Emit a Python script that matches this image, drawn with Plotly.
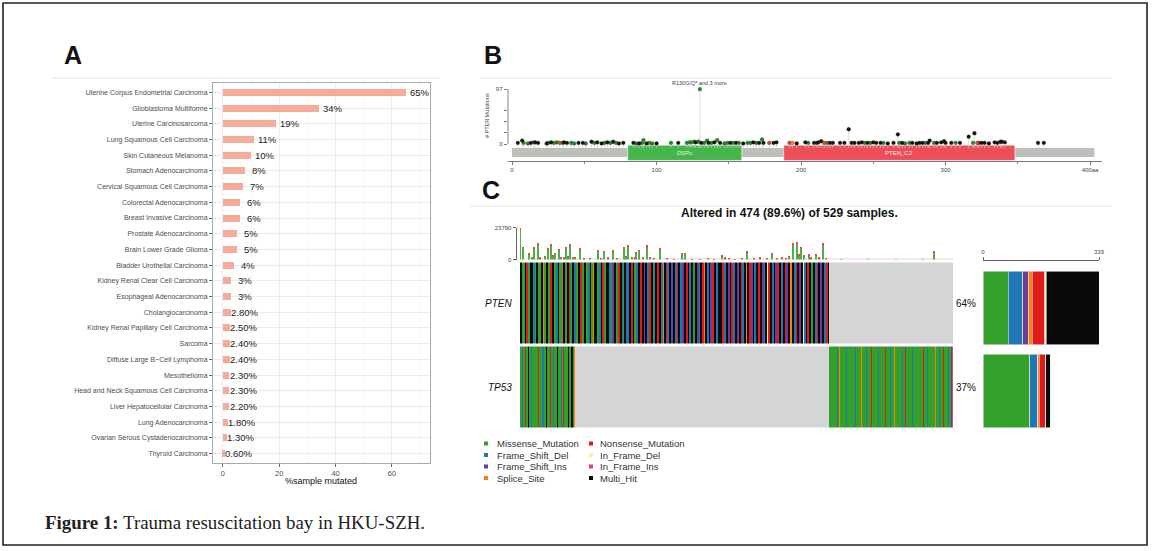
import plotly.graph_objects as go

W, H = 1155, 551


def fx(p):
    return p / W


def fy(p):
    return 1 - p / H


# ---------------- Panel A data ----------------
CANCER_TYPES = [
    "Uterine Corpus Endometrial Carcinoma", "Glioblastoma Multiforme", "Uterine Carcinosarcoma",
    "Lung Squamous Cell Carcinoma", "Skin Cutaneous Melanoma", "Stomach Adenocarcinoma",
    "Cervical Squamous Cell Carcinoma", "Colorectal Adenocarcinoma", "Breast Invasive Carcinoma",
    "Prostate Adenocarcinoma", "Brain Lower Grade Glioma", "Bladder Urothelial Carcinoma",
    "Kidney Renal Clear Cell Carcinoma", "Esophageal Adenocarcinoma", "Cholangiocarcinoma",
    "Kidney Renal Papillary Cell Carcinoma", "Sarcoma", "Diffuse Large B\u2212Cell Lymphoma",
    "Mesothelioma", "Head and Neck Squamous Cell Carcinoma", "Liver Hepatocellular Carcinoma",
    "Lung Adenocarcinoma", "Ovarian Serous Cystadenocarcinoma", "Thyroid Carcinoma",
]
PCT_MUTATED = [65, 34, 19, 11, 10, 8, 7, 6, 6, 5, 5, 4, 3, 3, 2.8, 2.5, 2.4, 2.4, 2.3, 2.3, 2.2, 1.8, 1.3, 0.6]
PCT_LABELS = ["65%", "34%", "19%", "11%", "10%", "8%", "7%", "6%", "6%", "5%", "5%", "4%", "3%", "3%",
              "2.80%", "2.50%", "2.40%", "2.40%", "2.30%", "2.30%", "2.20%", "1.80%", "1.30%", "0.60%"]
A_XTICKS = [0, 20, 40, 60]

# ---------------- Panel B data (PTEN lollipop) ----------------
PROTEIN_LENGTH = 403
DOMAIN_NAMES = ["DSPc", "PTEN_C2"]
DOMAIN_START = [80, 188]
DOMAIN_END = [159, 348]
LOLLI_AA = [4, 7, 8, 11, 13, 15, 16, 18, 24, 25, 27, 29, 31, 33, 35, 36, 38, 41, 43, 46, 49, 51, 55, 57, 59,
            62, 64, 66, 68, 70, 72, 74, 77, 84, 86, 88, 90, 91, 93, 95, 97, 100, 110, 115, 121, 123, 124, 126,
            127, 129, 130, 131, 133, 135, 136, 138, 140, 142, 144, 147, 149, 151, 153, 155, 157, 160, 163, 165,
            167, 169, 171, 173, 174, 178, 181, 183, 192, 194, 197, 203, 205, 209, 211, 212, 214, 216, 218, 220,
            222, 227, 230, 233, 235, 237, 240, 242, 244, 246, 248, 250, 252, 255, 257, 260, 264, 267, 268, 270,
            272, 275, 277, 280, 282, 284, 286, 288, 289, 292, 294, 297, 299, 300, 304, 307, 310, 316, 319, 320,
            322, 323, 325, 327, 330, 334, 336, 338, 339, 341, 364, 368]
LOLLI_COUNT = [2, 6, 2, 1, 2, 3, 3, 2, 1, 2, 3, 2, 3, 2, 2, 3, 2, 2, 1, 2, 2, 1, 4, 2, 3,
               1, 2, 3, 2, 4, 2, 1, 2, 2, 1, 1, 2, 7, 1, 2, 1, 1, 2, 2, 2, 3, 3, 4,
               3, 4, 97, 2, 2, 6, 2, 2, 3, 7, 2, 1, 2, 2, 2, 2, 2, 1, 2, 2,
               3, 2, 2, 8, 2, 2, 2, 3, 2, 2, 1, 3, 2, 2, 2, 3, 5, 2, 2, 2,
               2, 2, 2, 26, 2, 2, 2, 3, 2, 2, 2, 3, 2, 2, 2, 1, 2, 17, 2, 2,
               1, 2, 2, 1, 2, 2, 2, 2, 6, 2, 2, 3, 5, 2, 2, 2, 2, 13, 2, 19,
               2, 2, 2, 2, 1, 3, 2, 4, 4, 3, 2, 2]
LOLLI_TYPE = ["T", "T", "M", "M", "T", "M", "T", "T", "T", "M", "T", "M", "M", "F", "M", "T", "T", "M", "M", "T", "T", "M", "T", "M", "T",
              "T", "M", "T", "M", "T", "M", "T", "T", "T", "M", "T", "M", "M", "T", "M", "M", "T", "M", "T", "M", "M", "M", "M",
              "T", "M", "M", "T", "M", "M", "T", "M", "T", "M", "T", "M", "M", "T", "M", "T", "M", "T", "M", "M",
              "T", "M", "T", "M", "T", "F", "T", "T", "F", "S", "T", "T", "M", "T", "T", "T", "T", "F", "M", "T",
              "T", "T", "T", "T", "T", "T", "T", "T", "M", "T", "M", "T", "T", "T", "M", "T", "T", "T", "M", "T",
              "M", "M", "T", "T", "T", "T", "M", "T", "T", "M", "T", "T", "T", "T", "T", "M", "T", "T", "M", "T",
              "F", "T", "T", "T", "T", "T", "T", "T", "T", "T", "T", "T"]
LOLLI_TOP_LABEL = "R130G/Q* and 3 more"
LOLLI_YTICKS = [0, 20, 40, 60, 97]

# ---------------- Panel C data (oncoplot) ----------------
# one character per sample: M missense, D FS del, I FS ins, S splice, N nonsense,
# d in-frame del, i in-frame ins, H multi hit, . not altered
PTEN_CELLS = (
    "HHMMMHHNNMMHHHDDMMHHMMMHHSMMHHHMMNNHHMMDDHHMMMiHHMMHHNNMM"
    "HHDDMMHHHNNMMHHMMDDHHMMSHHHMMDDHHNNMMHHHDDMMIIHHMMNNHHDDM"
    "HHDDDHHNNHHMMDDHHNNHHIIHHDDNNHHMDDHHNNHHDDSHHNNDDHHIIHHDD"
    "NNHHDDIIHHNNHHDDHHMMHHIIDDHHNNSHHDDHHIINNHHDDHHdHHNNDDHH"
    "IIHHNNDDHHIIHHNNDDHHSHHNNIIHHDDHHNNHHIIDDHHdNNHHDDHHIINN"
    "HHDDHHNNIIHHSSHHDDNNHHIIHHdDDHHNNHHMMHHDDNNHHIIHHDDNNHH"
)
TP53_WITH_PTEN = "MMDMMMNMMHMMDMMMMSMMNMMMDDMMHMMMMNMMDMMMHMMMMDMNMMMMHMMMHHMS"
TP53_ONLY = (
    "MMMMMMMMDMMSMMMMMMDMMMNMMMMMDMMMMMMSMMMMDMMMMNMMMMMMMDMMMMMMMNMM"
    "MMDMMMMSMMMMMMMDMMMNMMMMMMDMMMMMMMMMMMNMMMMDMMMMMMMSMMMMDMMMNMMMMMDMMIi"
)
GENES = ["PTEN", "TP53"]
GENE_PCT = ["64%", "37%"]
VARIANT_CLASSES = ["Missense_Mutation", "Frame_Shift_Del", "Frame_Shift_Ins", "Splice_Site",
                   "Nonsense_Mutation", "In_Frame_Del", "In_Frame_Ins", "Multi_Hit"]
VARIANT_CODES = ["M", "D", "I", "S", "N", "d", "i", "H"]
SIDE_PTEN = [74, 42, 18, 10, 37, 4, 0, 154]
SIDE_TP53 = [136, 24, 0, 5, 17, 0, 2, 12]
SIDE_MAX = 339
TMB_COL = [0, 3, 10, 13, 15, 19, 22, 27, 30, 34, 36, 38, 42, 44, 48, 50, 52, 54, 58, 60, 65, 70, 76, 85,
           88, 92, 96, 101, 106, 113, 116, 118, 122, 125, 127, 130, 134, 139, 142, 146, 153, 160, 168,
           177, 180, 188, 196, 205, 212, 220, 224, 228, 235, 242, 248, 255, 262, 270, 275, 280, 286, 290,
           294, 298, 302, 305, 307, 310, 315, 318, 323, 326, 331, 334, 350, 380, 410, 440, 452]
TMB_TOTAL = [23790, 9000, 4500, 2000, 9000, 12000, 1500, 2500, 8300, 11500, 3000, 5000, 7500, 2000, 1500,
             9000, 2500, 11300, 2200, 1800, 8300, 1200, 900, 7000, 1000, 6500, 1500, 6800, 1000, 9300, 2500,
             11000, 2000, 1500, 5500, 7300, 1800, 10500, 2000, 800, 8800, 900, 600, 5000, 5000, 700, 600,
             900, 700, 3000, 1500, 1200, 600, 1000, 6300, 800, 1500, 1200, 5000, 900, 1500, 1200, 2500,
             12000, 13000, 4000, 9300, 3000, 4000, 1500, 4000, 1500, 12000, 1000, 300, 300, 300, 300, 6000]
TMB_NONMIS = [1900, 700, 300, 100, 800, 900, 100, 200, 600, 900, 200, 400, 500, 100, 100,
              900, 200, 800, 100, 100, 700, 100, 50, 500, 50, 400, 100, 400, 50, 700, 200,
              900, 100, 100, 400, 600, 100, 900, 100, 50, 700, 50, 50, 400, 400, 50, 50,
              50, 50, 300, 100, 100, 50, 50, 500, 50, 100, 100, 400, 50, 100, 100, 200,
              900, 1000, 300, 800, 200, 300, 100, 300, 100, 1000, 50, 0, 0, 0, 0, 500]
TMB_MAX = 23790
TITLE_C = "Altered in 474 (89.6%) of 529 samples."

# ---------------- styles ----------------
FONT = "Liberation Sans"
CODE_ORDER = [".", "M", "D", "I", "S", "N", "d", "i", "H"]
CODE_COLORS = ["#D5D5D5", "#33A02C", "#1F78B4", "#6A3D9A", "#FF7F00", "#E31A1C", "#F3F3A6", "#E0475B", "#0A0A0A"]
COLOR_OF = dict(zip(CODE_ORDER, CODE_COLORS))
LOLLI_COLORS = {"M": "#1E8C1E", "T": "#111111", "F": "#D2452A", "S": "#F08A24"}

fig = go.Figure()
annotations = []
shapes = []


def note(x, y, text, size, color="#222", xanchor="center", yanchor="middle", xref="paper", yref="paper",
         family=FONT, **kw):
    annotations.append(dict(x=x, y=y, xref=xref, yref=yref, text=text, showarrow=False,
                            xanchor=xanchor, yanchor=yanchor,
                            font=dict(family=family, size=size, color=color), **kw))


# ================= Panel A =================
fig.add_trace(go.Bar(x=PCT_MUTATED, y=CANCER_TYPES, orientation="h", width=0.45,
                     marker=dict(color="#F6AB9A", line=dict(width=0)),
                     xaxis="x", yaxis="y", showlegend=False, hoverinfo="skip"))
for cat, v, lab in zip(CANCER_TYPES, PCT_MUTATED, PCT_LABELS):
    note(v, cat, lab, 9.5, "#222", xref="x", yref="y", xshift=14)
note(fx(321), fy(481), "%sample mutated", 9, "#111")

# ================= Panel B =================
STEM_BASE = -7
sx, sy = [], []
for a, c in zip(LOLLI_AA, LOLLI_COUNT):
    sx += [a, a, None]
    sy += [STEM_BASE, c, None]
fig.add_trace(go.Scatter(x=sx, y=sy, mode="lines", line=dict(color="#CDCDCD", width=0.7),
                         xaxis="x2", yaxis="y2", showlegend=False, hoverinfo="skip"))
shapes.append(dict(type="rect", xref="x2", yref="y2", x0=0, x1=PROTEIN_LENGTH, y0=-23, y1=-7,
                   fillcolor="#BDC0BA", line=dict(width=0), layer="below"))
DOMAIN_COLORS = ["#45B649", "#EE4D5A"]
for name, s, e, col in zip(DOMAIN_NAMES, DOMAIN_START, DOMAIN_END, DOMAIN_COLORS):
    shapes.append(dict(type="rect", xref="x2", yref="y2", x0=s, x1=e, y0=-29, y1=-2,
                       fillcolor=col, line=dict(color="#ffffff", width=0.6), layer="below"))
    note((s + e) / 2, -15.5, name, 6, "#E9F4E4", xref="x2", yref="y2")
for t in ["M", "T", "F", "S"]:
    xs = [a for a, ty in zip(LOLLI_AA, LOLLI_TYPE) if ty == t]
    ys = [c for c, ty in zip(LOLLI_COUNT, LOLLI_TYPE) if ty == t]
    fig.add_trace(go.Scatter(x=xs, y=ys, mode="markers",
                             marker=dict(color=LOLLI_COLORS[t], size=3.8, line=dict(color="#333", width=0.3)),
                             xaxis="x2", yaxis="y2", showlegend=False, hoverinfo="skip"))
top_i = LOLLI_COUNT.index(max(LOLLI_COUNT))
note(LOLLI_AA[top_i], fy(83), LOLLI_TOP_LABEL, 5.5, "#444", xref="x2")
shapes.append(dict(type="line", xref="paper", yref="y2", x0=fx(508), x1=fx(508), y0=0, y1=max(LOLLI_COUNT),
                   line=dict(color="#666", width=0.8)))
note(fx(487), fy(116), "# PTEN Mutations", 5.5, "#444", textangle=-90)

# ================= Panel C =================
n_pten = len(PTEN_CELLS)
pten_row = PTEN_CELLS + "." * len(TP53_ONLY)
tp53_row = TP53_WITH_PTEN + "." * (n_pten - len(TP53_WITH_PTEN)) + TP53_ONLY
NCOL = len(pten_row)
idx = {c: k for k, c in enumerate(CODE_ORDER)}
z = [[idx[c] for c in pten_row], [idx[c] for c in tp53_row]]
nc = len(CODE_ORDER)
cscale = []
for k, c in enumerate(CODE_COLORS):
    cscale += [[k / nc, c], [(k + 1) / nc, c]]
fig.add_trace(go.Heatmap(z=z, x=list(range(NCOL)), y=[0, 1], colorscale=cscale, zmin=-0.5, zmax=nc - 0.5,
                         showscale=False, ygap=3, xaxis="x3", yaxis="y3", hoverinfo="skip"))

# TMB bars
tmb_mis = [t - o for t, o in zip(TMB_TOTAL, TMB_NONMIS)]
fig.add_trace(go.Bar(x=TMB_COL, y=tmb_mis, width=1.6, marker=dict(color="#4CB04A", line=dict(width=0)),
                     xaxis="x4", yaxis="y4", showlegend=False, hoverinfo="skip"))
fig.add_trace(go.Bar(x=TMB_COL, y=TMB_NONMIS, width=1.6, marker=dict(color="#E8474F", line=dict(width=0)),
                     xaxis="x4", yaxis="y4", showlegend=False, hoverinfo="skip"))
shapes.append(dict(type="line", xref="x4", yref="y4", x0=-0.5, x1=NCOL - 0.5, y0=150, y1=150,
                   line=dict(color="#F6D9CF", width=2), layer="below"))

# side bars
for name, code, pv, tv in zip(VARIANT_CLASSES, VARIANT_CODES, SIDE_PTEN, SIDE_TP53):
    fig.add_trace(go.Bar(x=[pv, tv], y=GENES, orientation="h", width=0.89,
                         marker=dict(color=COLOR_OF[code], line=dict(color="#E6E6E6", width=0.6)),
                         xaxis="x5", yaxis="y5", showlegend=False, hoverinfo="skip"))

row_centers = [303.5, 387.5]
for g, p, yc in zip(GENES, GENE_PCT, row_centers):
    note(fx(514), fy(yc), "<i>%s</i>" % g, 10, "#111", xanchor="right")
    note(fx(954), fy(yc), p, 10, "#111", xanchor="left")
note(fx(789), fy(213), "<b>%s</b>" % TITLE_C, 12, "#111")

# legend (two columns)
LEG_X_SQ = [484, 589]
LEG_X_TX = [495, 598]
LEG_Y = [443.5, 455, 466.5, 478]
for k, (name, code) in enumerate(zip(VARIANT_CLASSES, VARIANT_CODES)):
    col, row = divmod(k, 4)
    xs0, yc = LEG_X_SQ[col], LEG_Y[row]
    shapes.append(dict(type="rect", xref="paper", yref="paper", x0=fx(xs0), x1=fx(xs0 + 4),
                       y0=fy(yc + 2), y1=fy(yc - 2), fillcolor=COLOR_OF[code], line=dict(width=0)))
    note(fx(LEG_X_TX[col]), fy(yc), name, 9.5, "#333", xanchor="left")

# ================= panel letters, header lines, frame, caption =================
for letter, xl, yl in [("A", 73, 55), ("B", 493, 55), ("C", 491, 190)]:
    note(fx(xl), fy(yl), "<b>%s</b>" % letter, 25, "#111")
for x0, x1, yl in [(53, 440, 78), (480, 1112, 78), (470, 1112, 206)]:
    shapes.append(dict(type="line", xref="paper", yref="paper", x0=fx(x0), x1=fx(x1), y0=fy(yl), y1=fy(yl),
                       line=dict(color="#E2E2E2", width=1)))
shapes.append(dict(type="rect", xref="paper", yref="paper", x0=fx(3), x1=fx(1147), y0=fy(545), y1=fy(3),
                   line=dict(color="#222", width=1.6)))
note(fx(43), fy(522), "<b>Figure 1:</b> Trauma resuscitation bay in HKU-SZH.", 18.9, "#222",
     xanchor="left", family="Liberation Serif")

axis_font = dict(family=FONT, size=7, color="#4D4D4D")
small_font = dict(family=FONT, size=6, color="#444")
fig.update_layout(
    width=W, height=H, margin=dict(l=0, r=0, t=0, b=0, pad=0, autoexpand=False),
    paper_bgcolor="white", plot_bgcolor="white", barmode="stack", showlegend=False,
    font=dict(family=FONT),
    # Panel A
    xaxis=dict(domain=[fx(213), fx(430)], range=[-3.5, 73.5], anchor="y", tickvals=A_XTICKS, automargin=False,
               showgrid=True, gridcolor="#EBEBEB", gridwidth=1, zeroline=False,
               minor=dict(tickvals=[10, 30, 50, 70], showgrid=True, gridcolor="#F5F5F5", ticks=""),
               showline=True, mirror=True, linecolor="#A9A9A9", linewidth=1,
               ticks="outside", ticklen=3, tickcolor="#666", tickfont=dict(family=FONT, size=7.5, color="#4D4D4D")),
    yaxis=dict(domain=[fy(463), fy(83)], anchor="x", type="category", categoryorder="array", automargin=False,
               categoryarray=CANCER_TYPES, range=[len(CANCER_TYPES) - 0.4, -0.6],
               showgrid=True, gridcolor="#EBEBEB", showline=True, mirror=True, linecolor="#A9A9A9",
               ticks="outside", ticklen=3, tickcolor="#666", tickfont=axis_font),
    # Panel B
    xaxis2=dict(domain=[fx(507.7), fx(1101.6)], range=[-3, 408], anchor="y2", automargin=False,
                tickvals=[0, 100, 200, 300, 400], ticktext=["0", "100", "200", "300", "400aa"],
                minor=dict(tickvals=[50, 150, 250, 350], ticks="outside", ticklen=2, tickcolor="#888"),
                showgrid=False, zeroline=False, showline=True, linecolor="#777", linewidth=0.8,
                ticks="outside", ticklen=3, tickcolor="#777", tickfont=small_font),
    yaxis2=dict(domain=[fy(161), fy(86.2)], range=[-30, 102], anchor="x2", automargin=False,
                tickvals=LOLLI_YTICKS, ticktext=["0", "", "", "", str(max(LOLLI_COUNT))],
                showgrid=False, zeroline=False, showline=False,
                ticks="outside", ticklen=3, tickcolor="#777", tickfont=small_font),
    # Panel C heatmap
    xaxis3=dict(domain=[fx(520), fx(953)], range=[-0.5, NCOL - 0.5], anchor="y3", visible=False, automargin=False),
    yaxis3=dict(domain=[fy(429.5), fy(261.5)], range=[1.5, -0.5], anchor="x3", visible=False, automargin=False),
    # TMB
    xaxis4=dict(domain=[fx(520), fx(953)], range=[-0.5, NCOL - 0.5], anchor="y4", visible=False, automargin=False),
    yaxis4=dict(domain=[fy(259.5), fy(227.5)], range=[0, TMB_MAX], anchor="free", position=fx(515.5),
                automargin=False, tickvals=[0, TMB_MAX], ticktext=["0", str(TMB_MAX)],
                showgrid=False, zeroline=False, showline=True, linecolor="#666",
                linewidth=0.8, ticks="outside", ticklen=3, tickcolor="#666", tickfont=small_font),
    # side bars
    xaxis5=dict(domain=[fx(983), fx(1099)], range=[0, SIDE_MAX], anchor="free", position=fy(259.5),
                automargin=False, side="top", tickvals=[0, SIDE_MAX], showgrid=False, zeroline=False,
                showline=True, linecolor="#666", linewidth=0.8, ticks="outside", ticklen=3, tickcolor="#666",
                tickfont=small_font),
    yaxis5=dict(domain=[fy(432.5), fy(266.5)], type="category", categoryorder="array", categoryarray=GENES,
                range=[1.5, -0.5], anchor="x5", visible=False, automargin=False),
    annotations=annotations, shapes=shapes,
)

fig.write_html("out.html", config={"displayModeBar": False},
               post_script="document.body.style.margin='0';document.body.style.overflow='hidden';")
